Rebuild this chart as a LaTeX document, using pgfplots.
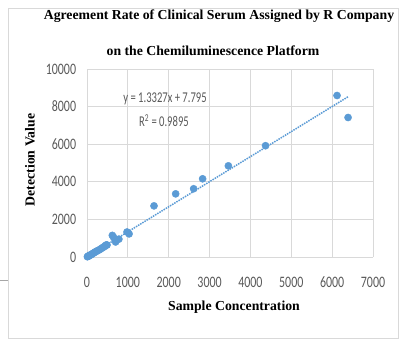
\documentclass[border=0pt]{standalone}
\usepackage{pgfplots}
\pgfplotsset{compat=1.18}
\usepackage{fontspec}
\setmainfont{Liberation Serif}
\newfontfamily\calibri{Carlito}
\definecolor{exblue}{HTML}{5B9BD5}
\definecolor{exgrid}{HTML}{D9D9D9}
\definecolor{extext}{HTML}{595959}
\begin{document}
\begin{tikzpicture}[x=1bp,y=1bp]
\useasboundingbox (0,0) rectangle (415,349);
\draw[exgrid, line width=0.8bp] (8,11) rectangle (398,341);
\draw[gray!70, line width=0.6bp] (0,69) -- (8,69);
\begin{axis}[
  at={(87bp,92bp)}, anchor=south west,
  scale only axis, width=286bp, height=188bp,
  xmin=0, xmax=7000, ymin=0, ymax=10000,
  xtick={0,1000,...,7000}, ytick={0,2000,...,10000},
  scaled x ticks=false, scaled y ticks=false,
  grid=major, grid style={exgrid, line width=0.8bp},
  axis line style={draw=none}, major tick length=0pt,
  /pgf/number format/1000 sep={}, /pgf/number format/assume math mode=true,
  ticklabel style={font=\calibri\fontsize{16}{18}\selectfont, text=extext, xscale=0.75},
  xticklabel style={anchor=base, yshift=-30bp},
  yticklabel style={xshift=-11bp},
  clip=false,
]
\addplot[only marks, mark=*, mark size=3.6bp, exblue, mark options={fill=exblue, draw=exblue}] coordinates {
(10,15)(20,30)(35,45)(50,70)(60,80)(80,100)(100,130)(120,150)(150,200)(180,230)
(200,270)(230,300)(260,340)(300,380)(330,420)(360,470)(400,520)(430,560)(450,600)(470,640)
(490,640)(620,1150)(650,1050)(680,950)(720,900)(700,800)(780,950)(980,1330)(1030,1230)
(1640,2720)(2170,3360)(2610,3630)(2830,4160)(3460,4850)(4370,5920)(6120,8590)(6390,7420)
};
\addplot[exblue, densely dotted, line width=1.5bp] coordinates {(0,7.795)(6400,8537)};
\end{axis}
\node[font=\bfseries\fontsize{13.8}{16}\selectfont] at (219,333) {Agreement Rate of Clinical Serum Assigned by R Company};
\node[font=\bfseries\fontsize{13.8}{16}\selectfont] at (213,298) {on the Chemiluminescence Platform};
\node[font=\bfseries\fontsize{13.8}{16}\selectfont] at (234,42) {Sample Concentration};
\node[font=\bfseries\fontsize{13.8}{16}\selectfont, rotate=90] at (30,189) {Detection Value};
\node[font=\calibri\fontsize{15}{18}\selectfont, text=extext, xscale=0.71] at (165,250) {y = 1.3327x + 7.795};
\node[font=\calibri\fontsize{15}{18}\selectfont, text=extext, xscale=0.71] at (164,228) {R\textsuperscript{2} = 0.9895};
\end{tikzpicture}
\end{document}
